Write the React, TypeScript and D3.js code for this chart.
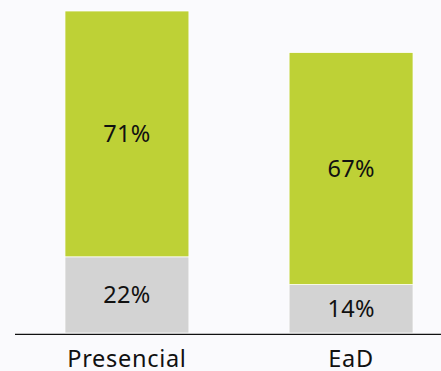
import React from "react";
import * as d3 from "d3";

const categories = ["Presencial", "EaD"];
const grayValues = [22, 14];
const greenValues = [71, 67];
const seriesColors = ["#D3D3D3", "#BED136"];

const W = 441;
const H = 371;

export default function App() {
  React.useEffect(() => {
    document.body.style.margin = "0";
  }, []);
  const x = d3.scaleBand<string>().domain(categories).range([15, 463]).paddingInner(0.447).paddingOuter(0.223);
  const maxTotal = d3.max(categories.map((_, i) => grayValues[i] + greenValues[i])) as number;
  const y = d3.scaleLinear().domain([0, maxTotal]).range([333, 11]);
  const font = "'Noto Sans', sans-serif";
  const series = [grayValues, greenValues];
  return (
    <svg width={W} height={H} style={{ display: "block", background: "#FAFAFD" }} fontFamily={font}>
      <rect x={0} y={0} width={W} height={H} fill="#FAFAFD" />
      {categories.map((c, i) => {
        let base = 0;
        return series.map((s, k) => {
          const y0 = base;
          const y1 = base + s[i];
          base = y1;
          const top = y(y1);
          const bottom = y(y0);
          return (
            <g key={c + k}>
              <rect x={x(c)} y={top} width={x.bandwidth()} height={bottom - top} fill={seriesColors[k]} stroke="#ffffff" strokeWidth={0.75} />
              <text x={(x(c) as number) + x.bandwidth() / 2} y={(top + bottom) / 2} dy="0.36em" textAnchor="middle" fontSize={23.5} letterSpacing={0.3} fill="#111">
                {s[i]}%
              </text>
            </g>
          );
        });
      })}
      <line x1={15} x2={W} y1={y(0) + 1.3} y2={y(0) + 1.3} stroke="#111" strokeWidth={1.3} />
      {categories.map((c) => (
        <text key={c} x={(x(c) as number) + x.bandwidth() / 2} y={367} textAnchor="middle" fontSize={23.5} letterSpacing={0.7} fill="#111">
          {c}
        </text>
      ))}
    </svg>
  );
}
